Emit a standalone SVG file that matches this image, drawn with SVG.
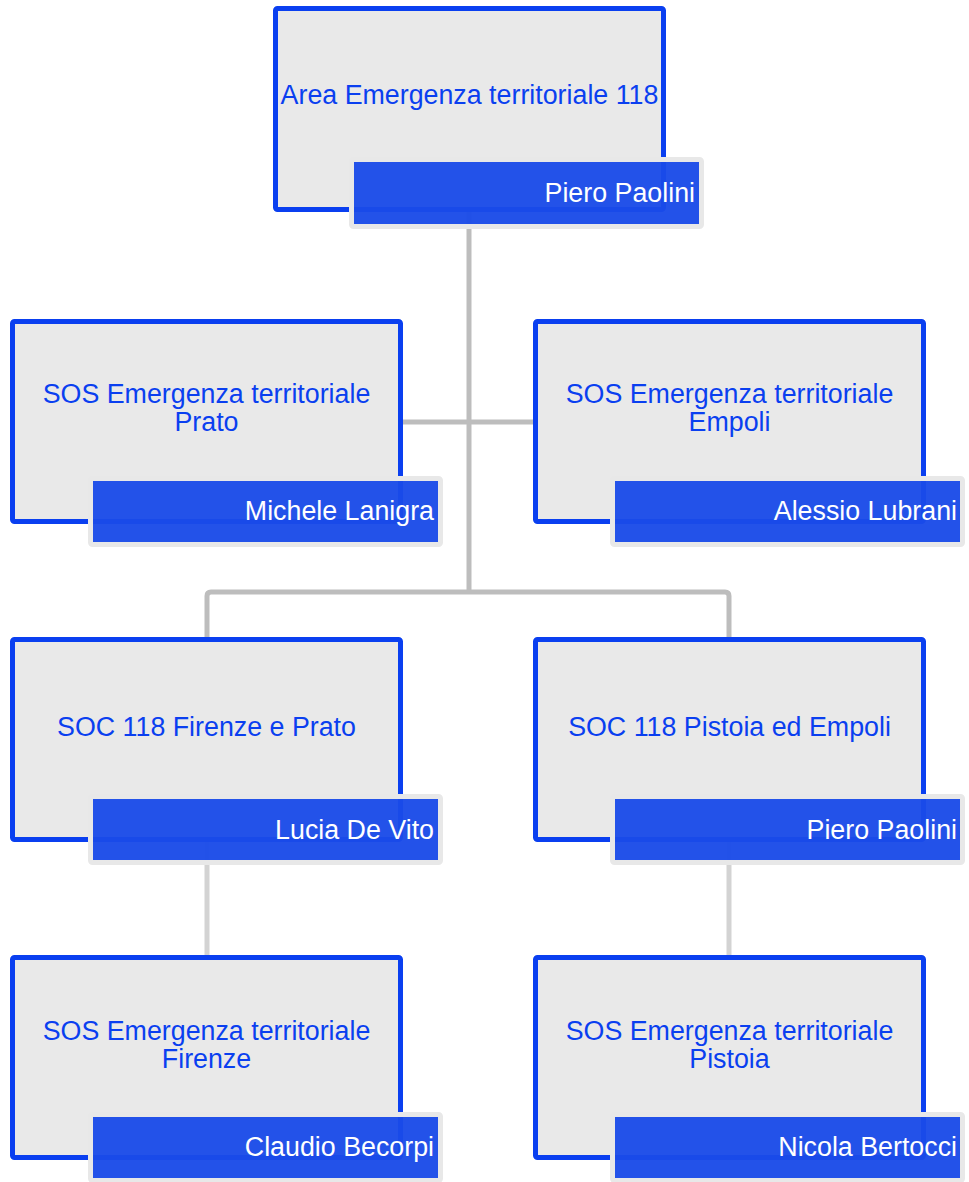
<svg xmlns="http://www.w3.org/2000/svg" width="969" height="1182" viewBox="0 0 969 1182">
  <style>
    .box { fill: #e9e9e9; stroke: #0a3ff0; stroke-width: 5; }
    .frame { fill: none; stroke: #e8e8e8; stroke-width: 5; }
    .band { fill: #1a4be8; fill-opacity: 0.96; }
    .title { font-family: "Liberation Sans", Arial, sans-serif; font-size: 26.8px; fill: #0a3ff0; text-anchor: middle; }
    .name { font-family: "Liberation Sans", Arial, sans-serif; font-size: 26.8px; fill: #ffffff; text-anchor: end; }
    .conn { fill: none; stroke: #bdbdbd; stroke-width: 5; }
    .conn2 { fill: none; stroke: #d3d3d3; stroke-width: 5; }
  </style>
  <rect width="969" height="1182" fill="#ffffff"/>
  <g id="connectors">
    <path class="conn" d="M469,212 V592"/>
    <path class="conn" d="M403,422 H533"/>
    <path class="conn" d="M207,637 V596 Q207,592 211,592 H725 Q729,592 729,596 V637"/>
    <path class="conn2" d="M207,842 V955"/>
    <path class="conn2" d="M729,842 V955"/>
  </g>
  <g id="node-area">
    <rect class="box" x="275.5" y="8.5" width="388" height="201" rx="2"/>
    <text class="title" x="469.5" y="104">Area Emergenza territoriale 118</text>
    <rect class="frame" x="351.5" y="159.5" width="350" height="67" rx="2"/>
    <rect class="band" x="354" y="162" width="345" height="62"/>
    <text class="name" x="695" y="202">Piero Paolini</text>
  </g>
  <g id="node-sos-prato">
    <rect class="box" x="12.5" y="321.5" width="388" height="200" rx="2"/>
    <text class="title" x="206.5" y="403">SOS Emergenza territoriale</text>
    <text class="title" x="206.5" y="431">Prato</text>
    <rect class="frame" x="90.5" y="478.5" width="350" height="66" rx="2"/>
    <rect class="band" x="93" y="481" width="345" height="61"/>
    <text class="name" x="434" y="520">Michele Lanigra</text>
  </g>
  <g id="node-sos-empoli">
    <rect class="box" x="535.5" y="321.5" width="388" height="200" rx="2"/>
    <text class="title" x="729.5" y="403">SOS Emergenza territoriale</text>
    <text class="title" x="729.5" y="431">Empoli</text>
    <rect class="frame" x="612.5" y="478.5" width="350" height="66" rx="2"/>
    <rect class="band" x="615" y="481" width="345" height="61"/>
    <text class="name" x="957" y="520">Alessio Lubrani</text>
  </g>
  <g id="node-soc-firenze">
    <rect class="box" x="12.5" y="639.5" width="388" height="200" rx="2"/>
    <text class="title" x="206.5" y="736">SOC 118 Firenze e Prato</text>
    <rect class="frame" x="90.5" y="796.5" width="350" height="66" rx="2"/>
    <rect class="band" x="93" y="799" width="345" height="61"/>
    <text class="name" x="434" y="839">Lucia De Vito</text>
  </g>
  <g id="node-soc-pistoia">
    <rect class="box" x="535.5" y="639.5" width="388" height="200" rx="2"/>
    <text class="title" x="729.5" y="736">SOC 118 Pistoia ed Empoli</text>
    <rect class="frame" x="612.5" y="796.5" width="350" height="66" rx="2"/>
    <rect class="band" x="615" y="799" width="345" height="61"/>
    <text class="name" x="957" y="839">Piero Paolini</text>
  </g>
  <g id="node-sos-firenze">
    <rect class="box" x="12.5" y="957.5" width="388" height="200" rx="2"/>
    <text class="title" x="206.5" y="1040">SOS Emergenza territoriale</text>
    <text class="title" x="206.5" y="1068">Firenze</text>
    <rect class="frame" x="90.5" y="1114.5" width="350" height="66" rx="2"/>
    <rect class="band" x="93" y="1117" width="345" height="61"/>
    <text class="name" x="434" y="1156">Claudio Becorpi</text>
  </g>
  <g id="node-sos-pistoia">
    <rect class="box" x="535.5" y="957.5" width="388" height="200" rx="2"/>
    <text class="title" x="729.5" y="1040">SOS Emergenza territoriale</text>
    <text class="title" x="729.5" y="1068">Pistoia</text>
    <rect class="frame" x="612.5" y="1114.5" width="350" height="66" rx="2"/>
    <rect class="band" x="615" y="1117" width="345" height="61"/>
    <text class="name" x="957" y="1156">Nicola Bertocci</text>
  </g>
</svg>
